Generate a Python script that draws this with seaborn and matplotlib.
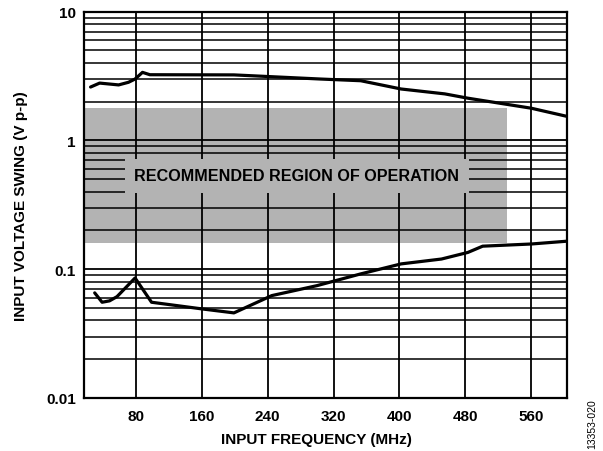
import numpy as np
import pandas as pd
import matplotlib
matplotlib.use("Agg")
import matplotlib.pyplot as plt
import seaborn as sns

# upper limit curve (MHz, V p-p)
upper_freq = [25, 36, 59, 71, 79, 88, 97, 199, 304, 353, 402, 455, 483, 560, 603]
upper_vpp = [2.6, 2.79, 2.7, 2.83, 3.0, 3.38, 3.24, 3.23, 3.0, 2.91, 2.51, 2.30, 2.13, 1.78, 1.54]

# lower limit curve (MHz, V p-p)
lower_freq = [30, 39, 48, 57, 79, 99, 160, 199, 245, 300, 353, 402, 451, 483, 501, 560, 603]
lower_vpp = [0.0655, 0.0554, 0.0568, 0.0612, 0.0855, 0.0554, 0.0492, 0.0458, 0.0624,
             0.0746, 0.092, 0.110, 0.120, 0.135, 0.151, 0.157, 0.165]

region_freq = [17, 531]
region_vpp = [0.16, 1.8]
x_ticks = [80, 160, 240, 320, 400, 480, 560]
y_ticks = [0.01, 0.1, 1, 10]
y_tick_labels = ["0.01", "0.1", "1", "10"]

sns.set_style("white")
plt.rcParams['font.family'] = ['Liberation Sans', 'DejaVu Sans']
plt.rcParams['text.color'] = 'black'
plt.rcParams['axes.labelcolor'] = 'black'
plt.rcParams['xtick.color'] = 'black'
plt.rcParams['ytick.color'] = 'black'

fig = plt.figure(figsize=(6.03, 4.52), dpi=100)
ax = fig.add_axes([0.1393, 0.1173, 0.8005, 0.8546])

ax.set_yscale("log")
ax.set_xlim(17, 603)
ax.set_ylim(0.01, 10)

# gray shaded region
ax.fill_between(region_freq, region_vpp[0], region_vpp[1], color="#b3b3b3", lw=0, zorder=0)

# grid
ax.set_xticks(x_ticks)
ax.set_yticks(y_ticks)
ax.set_yticklabels(y_tick_labels)
ax.yaxis.set_minor_locator(matplotlib.ticker.LogLocator(base=10, subs=np.arange(2, 10)))
ax.yaxis.set_minor_formatter(matplotlib.ticker.NullFormatter())
ax.grid(True, which="major", color="black", lw=1.3, zorder=1)
ax.grid(True, which="minor", axis="y", color="black", lw=1.1, zorder=1)
ax.set_axisbelow(True)
ax.tick_params(which="both", length=0, labelsize=11, labelcolor="black")
ax.tick_params(axis="x", pad=8)
ax.tick_params(axis="y", pad=6)
for lbl in ax.get_xticklabels() + ax.get_yticklabels():
    lbl.set_fontweight("bold")

up = pd.DataFrame({"freq": upper_freq, "vpp": upper_vpp})
lo = pd.DataFrame({"freq": lower_freq, "vpp": lower_vpp})
sns.lineplot(data=up, x="freq", y="vpp", color="black", lw=2.3, ax=ax, zorder=3)
sns.lineplot(data=lo, x="freq", y="vpp", color="black", lw=2.3, ax=ax, zorder=3)

ax.text(0.441, 0.575, "RECOMMENDED REGION OF OPERATION", transform=ax.transAxes,
        ha="center", va="center", fontsize=11.6, fontweight="bold", color="black", zorder=2,
        bbox=dict(facecolor="#b3b3b3", edgecolor="none", pad=7))

for s in ax.spines.values():
    s.set_color("black")
    s.set_linewidth(1.6)

ax.set_xlabel("INPUT FREQUENCY (MHz)", fontsize=11, fontweight="bold", color="black")
ax.set_ylabel("INPUT VOLTAGE SWING (V p-p)", fontsize=11, fontweight="bold", color="black")
ax.xaxis.set_label_coords(0.481, -0.088)
ax.yaxis.set_label_coords(-0.116, 0.5)

fig.text(0.982, 0.007, "13353-020", rotation=90, fontsize=7.5, color="black",
         ha="center", va="bottom")

fig.savefig("out.png", dpi=100)
